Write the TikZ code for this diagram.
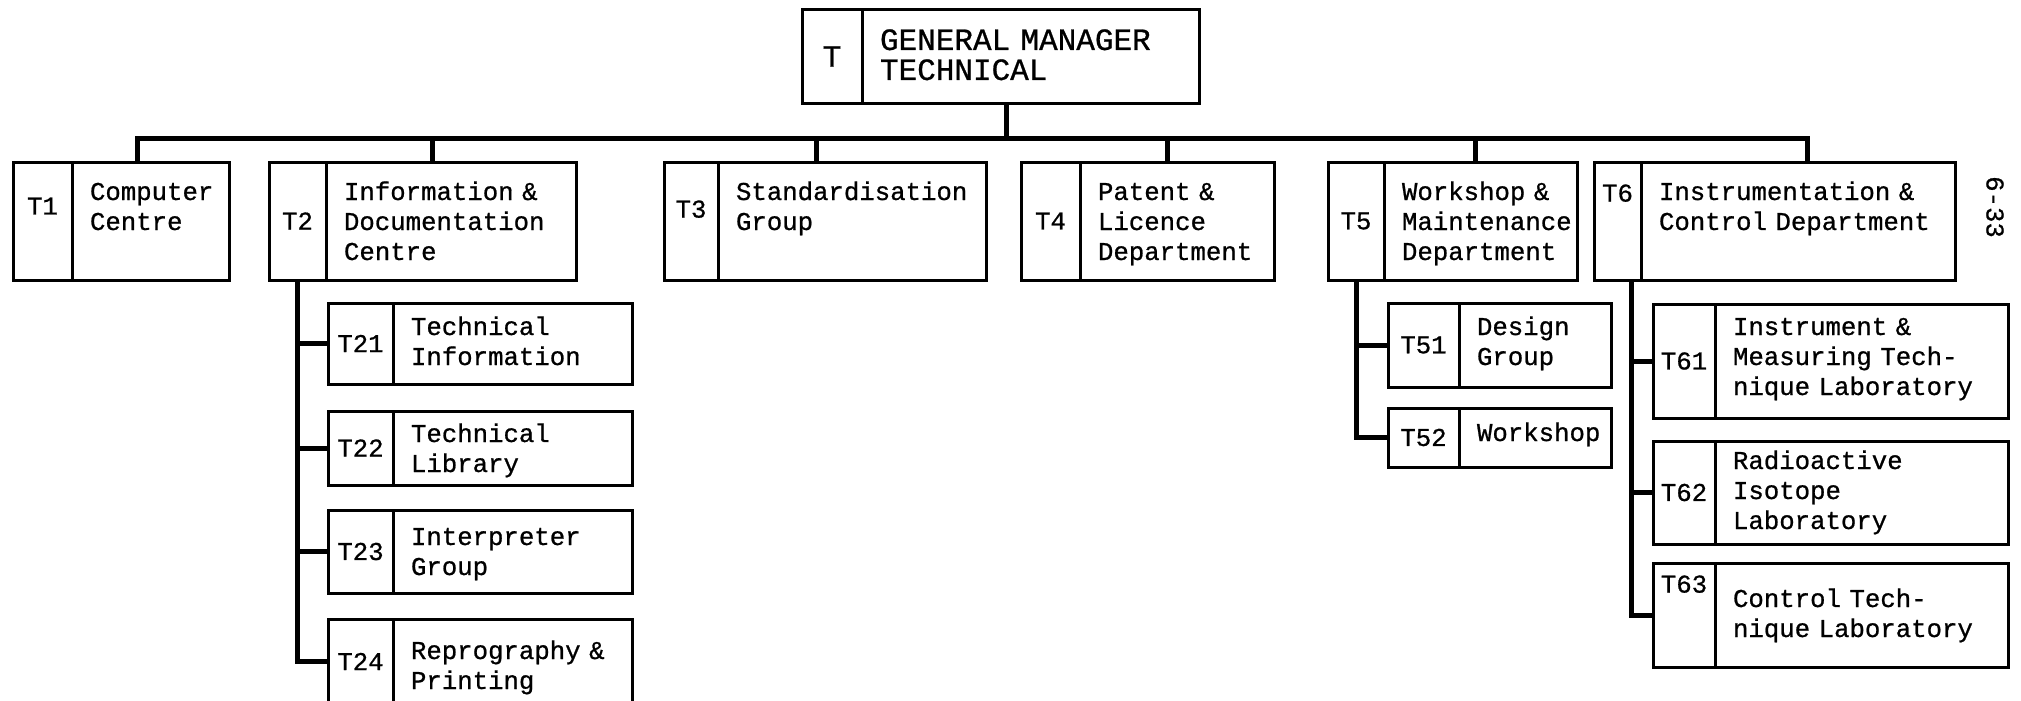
\documentclass[tikz,border=0pt]{standalone}
\usepackage{fontspec}
\setmonofont{Liberation Mono}[FakeBold=0.8]
\usepackage{tikz}
\usetikzlibrary{positioning}
\tikzset{
    codecell/.style = {rectangle, draw=black, line width=3pt, inner sep=0pt, outer sep=0pt, anchor=north west, font=\ttfamily\fontsize{25.7}{30}\selectfont},
    namecell/.style = {rectangle, draw=black, line width=3pt, inner xsep=2pt, inner ysep=0pt, outer sep=0pt, align=left, font=\ttfamily\fontsize{25.7}{30}\selectfont, execute at begin node={\leftskip=16pt}},
    headcell/.style = {font=\ttfamily\fontsize{31}{30}\selectfont},
    deptcell/.style = {namecell, text height=38pt, text depth=80pt},
    link/.style = {line width=5pt},
    pagemark/.style = {font=\ttfamily\fontsize{25.7}{30}\selectfont, rotate=-90}
}

\begin{document}
\begin{tikzpicture}[x=1pt,y=1pt]
\useasboundingbox (0,0) rectangle (2021,-701);
\clip (0,0) rectangle (2021,-701);
%
\node[codecell, headcell, minimum width=60pt, minimum height=93pt] at (802, -10) (c0) {T};
\node[namecell, headcell, text width=333pt, text height=40pt, text depth=53pt, right=0pt of c0] (b0) {GENERAL MANAGER\\TECHNICAL};
%
\node[codecell, minimum width=59pt, minimum height=118pt, text depth=30pt] at (13, -162) (c1) {T1};
\node[deptcell, text width=153pt, right=0pt of c1] (b1) {Computer\\Centre};
\node[codecell, minimum width=57pt, minimum height=118pt] at (269, -162) (c2) {T2};
\node[deptcell, text width=246pt, right=0pt of c2] (b2) {Information \&\\Documentation\\Centre};
\node[codecell, minimum width=54pt, minimum height=118pt, text depth=24pt] at (664, -162) (c3) {T3};
\node[deptcell, text width=264pt, right=0pt of c3] (b3) {Standardisation\\Group};
\node[codecell, minimum width=59pt, minimum height=118pt] at (1021, -162) (c4) {T4};
\node[deptcell, text width=190pt, right=0pt of c4] (b4) {Patent \&\\Licence\\Department};
\node[codecell, minimum width=56pt, minimum height=118pt] at (1328, -162) (c5) {T5};
\node[deptcell, text width=189pt, right=0pt of c5] (b5) {Workshop \&\\Maintenance\\Department};
\node[codecell, minimum width=47pt, minimum height=118pt, text depth=56pt] at (1594, -162) (c6) {T6};
\node[deptcell, text width=310pt, right=0pt of c6] (b6) {Instrumentation \&\\Control Department};
%
\node[codecell, minimum width=65pt, minimum height=81pt] at (328, -303) (c21) {T21};
\node[namecell, text width=235pt, text height=32pt, text depth=49pt, right=0pt of c21] (b21) {Technical\\Information};
\node[codecell, minimum width=65pt, minimum height=74pt] at (328, -411) (c22) {T22};
\node[namecell, text width=235pt, text height=31pt, text depth=43pt, right=0pt of c22] (b22) {Technical\\Library};
\node[codecell, minimum width=65pt, minimum height=83pt] at (328, -510) (c23) {T23};
\node[namecell, text width=235pt, text height=35pt, text depth=48pt, right=0pt of c23] (b23) {Interpreter\\Group};
\node[codecell, minimum width=65pt, minimum height=85pt] at (328, -619) (c24) {T24};
\node[namecell, text width=235pt, text height=40pt, text depth=45pt, right=0pt of c24] (b24) {Reprography \&\\Printing};
%
\node[codecell, minimum width=71pt, minimum height=84pt] at (1388, -303) (c51) {T51};
\node[namecell, text width=148pt, text height=32pt, text depth=52pt, right=0pt of c51] (b51) {Design\\Group};
\node[codecell, minimum width=71pt, minimum height=59pt] at (1388, -408) (c52) {T52};
\node[namecell, text width=148pt, text height=33pt, text depth=26pt, right=0pt of c52] (b52) {Workshop};
%
\node[codecell, minimum width=62pt, minimum height=114pt] at (1653, -304) (c61) {T61};
\node[namecell, text width=289pt, text height=31pt, text depth=83pt, right=0pt of c61] (b61) {Instrument \&\\Measuring Tech-\\nique Laboratory};
\node[codecell, minimum width=62pt, minimum height=103pt] at (1653, -441) (c62) {T62};
\node[namecell, text width=289pt, text height=28pt, text depth=75pt, right=0pt of c62] (b62) {Radioactive\\Isotope\\Laboratory};
\node[codecell, minimum width=62pt, minimum height=104pt, text depth=62pt] at (1653, -563) (c63) {T63};
\node[namecell, text width=289pt, text height=44pt, text depth=60pt, right=0pt of c63] (b63) {Control Tech-\\nique Laboratory};
%
\node[pagemark] at (1995, -207) (pg) {6-33};
%
\coordinate (d0) at (1006, -138);
\coordinate (d1) at (137, -138);
\coordinate (d2) at (432, -138);
\coordinate (d3) at (816, -138);
\coordinate (d4) at (1167, -138);
\coordinate (d5) at (1475, -138);
\coordinate (d6) at (1807, -138);
\coordinate (v6) at ([xshift=14pt]c6.south);
%
\draw[link] (b0.south -| d0) -- (d0);
\draw[link] (d1 |- b1.north) -- (d1) -- (d6) -- (d6 |- b6.north);
\foreach \i in {2,...,5} \draw[link] (d\i) -- (d\i |- b\i.north);
\draw[link] (c2.south) |- (c24.west);
\foreach \i in {21,22,23} \draw[link] (c2.south |- c\i.west) -- (c\i.west);
\draw[link] (c5.south) |- (c52.west);
\draw[link] (c5.south |- c51.west) -- (c51.west);
\draw[link] (v6) |- (c63.west);
\foreach \i in {61,62} \draw[link] (v6 |- c\i.west) -- (c\i.west);

\end{tikzpicture}
\end{document}
